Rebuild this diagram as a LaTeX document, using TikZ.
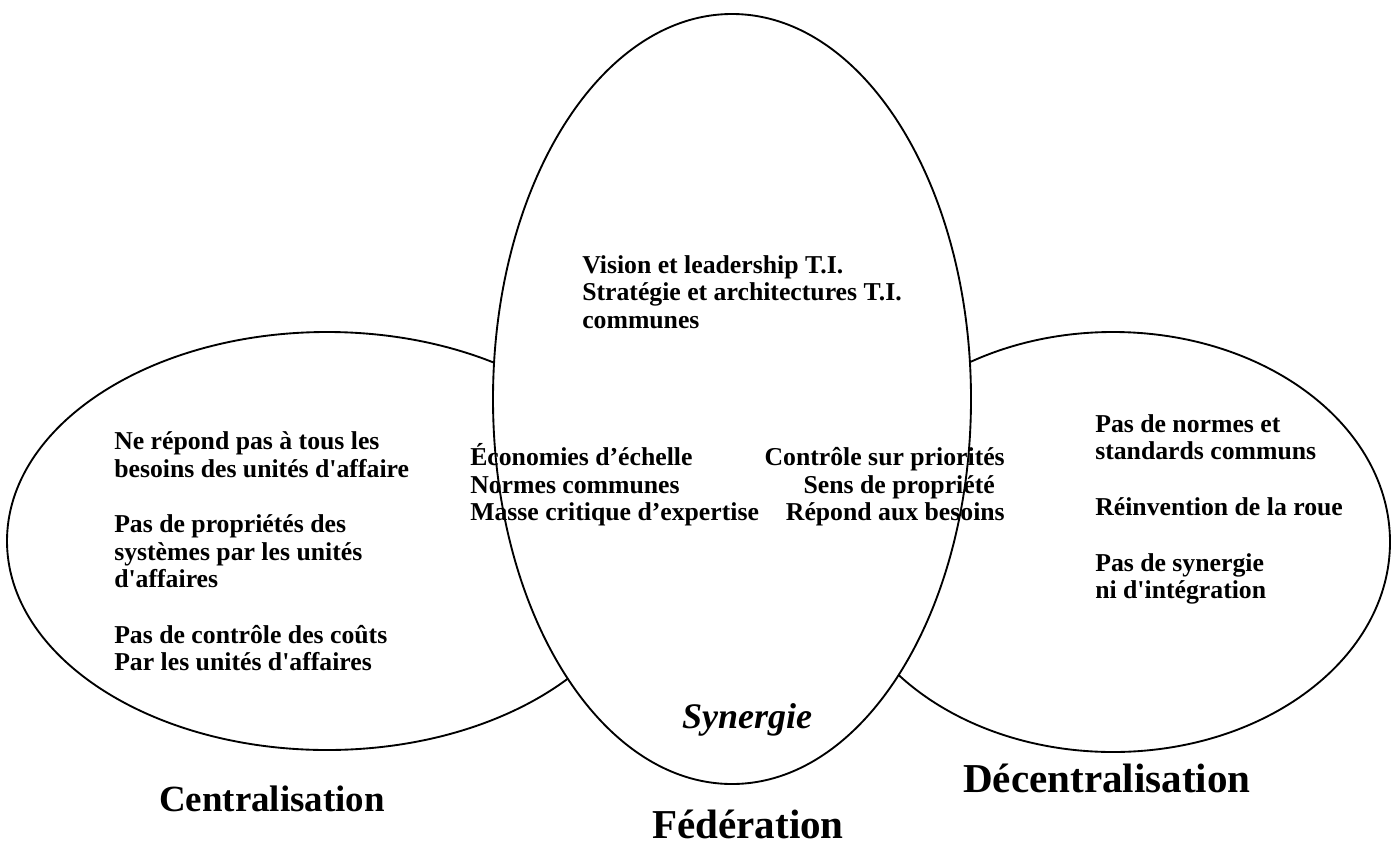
\documentclass[tikz,border=0pt]{standalone}
\usepackage{fontspec}
\setmainfont{Liberation Serif}
\newcommand{\ap}{\textquotesingle}
\begin{document}
\begin{tikzpicture}[x=0.75pt,y=-0.75pt,
  blob/.style={draw=black,line width=1.4pt},
  txt/.style={inner sep=0pt,font=\fontsize{19.3}{21.75}\selectfont\bfseries},
  ttl/.style={inner sep=0pt,font=\fontsize{30.8}{34}\selectfont\bfseries},
  ttls/.style={inner sep=0pt,font=\fontsize{27.7}{31}\selectfont\bfseries},
  syn/.style={inner sep=0pt,font=\fontsize{27}{30}\selectfont\bfseries\itshape}]
\useasboundingbox (0,0) rectangle (1391,846);
\fill[white] (0,0) rectangle (1391,846);
% outer ellipses
\draw[blob] (327,541) ellipse [x radius=320, y radius=209];
\draw[blob] (1113,542) ellipse [x radius=277, y radius=210];
% central ellipse
\draw[blob,fill=white] (732,399) ellipse [x radius=239, y radius=385];
% central top
\node[txt,anchor=base west] (v1) at (582,273) {Vision et leadership T.I.};
\node[txt,anchor=base west] (v2) at (582,300.5) {Stratégie et architectures T.I.};
\node[txt,anchor=base west] (v3) at (582,328) {communes};
% central middle left
\node[txt,anchor=base west] (m1) at (470,465) {Économies d’échelle};
\node[txt,anchor=base west] (m2) at (470,493) {Normes communes};
\node[txt,anchor=base west] (m3) at (470,520) {Masse critique d’expertise};
% central middle right
\node[txt,anchor=base east] (r1) at (1005,465) {Contrôle sur priorités};
\node[txt,anchor=base east] (r2) at (995,493) {Sens de propriété};
\node[txt,anchor=base east] (r3) at (1005,520) {Répond aux besoins};
% left
\node[txt,anchor=base west] (a1) at (114,449) {Ne répond pas à tous les};
\node[txt,anchor=base west] (a2) at (114,477) {besoins des unités d\ap affaire};
\node[txt,anchor=base west] (a3) at (114,532) {Pas de propriétés des};
\node[txt,anchor=base west] (a4) at (114,560) {systèmes par les unités};
\node[txt,anchor=base west] (a5) at (114,587) {d\ap affaires};
\node[txt,anchor=base west] (a6) at (114,643) {Pas de contrôle des coûts};
\node[txt,anchor=base west] (a7) at (114,670) {Par les unités d\ap affaires};
% right
\node[txt,anchor=base west] (b1) at (1095,432) {Pas de normes et};
\node[txt,anchor=base west] (b2) at (1095,459) {standards communs};
\node[txt,anchor=base west] (b3) at (1095,515) {Réinvention de la roue};
\node[txt,anchor=base west] (b4) at (1095,571) {Pas de synergie};
\node[txt,anchor=base west] (b5) at (1095,598) {ni d\ap intégration};
% synergie
\node[syn,anchor=base] (syn) at (747,728) {Synergie};
% titles
\node[ttls,anchor=base] (cen) at (272,811) {Centralisation};
\node[ttl,anchor=base] (fed) at (748,838) {Fédération};
\node[ttl,anchor=base] (dec) at (1107,792) {Décentralisation};
\end{tikzpicture}
\end{document}
